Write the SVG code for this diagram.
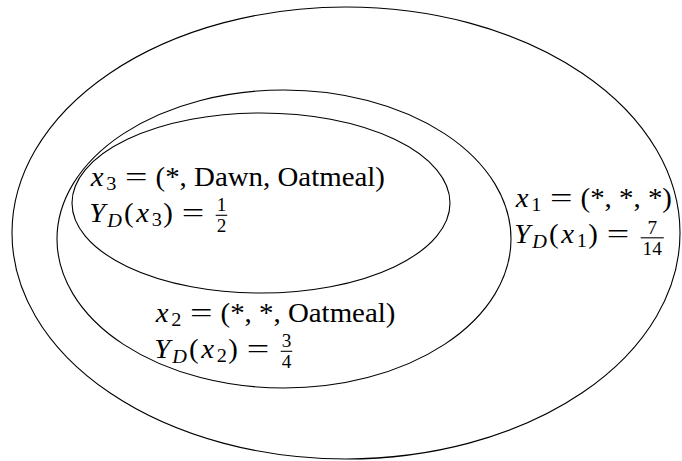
<svg xmlns="http://www.w3.org/2000/svg" width="682" height="461" viewBox="0 0 682 461" font-family="'Liberation Serif', 'DejaVu Serif', serif">
<style>
  .ell{fill:none;stroke:#000;stroke-width:1.1}
  text{font-family:'Liberation Serif','DejaVu Serif',serif;fill:#000}
  .mi{font-style:italic;font-size:27px;text-anchor:middle}
  .r{font-size:27px}
  .rc{font-size:27px;text-anchor:middle}
  .si{font-style:italic;font-size:19px;text-anchor:middle}
  .sr{font-size:19px;text-anchor:middle}
  .fr{font-size:18px;text-anchor:middle}
  .bar{stroke:#000;stroke-width:1.1}
</style>
<rect width="682" height="461" fill="#fff"/>
<g id="n1">
  <ellipse class="ell" cx="346" cy="233" rx="334" ry="226"/>
  <g transform="translate(514,0) scale(1.07,1)">
    <text class="mi" x="7.7" y="207">x</text>
    <text class="sr" x="20.8" y="211">1</text>
    <text class="rc" transform="translate(44.2,207) scale(1.38,1)">=</text>
    <text class="r" x="62.2" y="207">(*, *, *)</text>
    <text class="mi" x="7.85" y="243">Y</text>
    <text class="si" x="23.85" y="248">D</text>
    <text class="rc" x="37.25" y="243">(</text>
    <text class="mi" x="50.2" y="243">x</text>
    <text class="sr" x="63.3" y="247">1</text>
    <text class="rc" x="74" y="243">)</text>
    <text class="rc" transform="translate(97.2,243) scale(1.38,1)">=</text>
    <text class="fr" x="129.2" y="233.6">7</text>
    <line class="bar" x1="118.4" y1="237.8" x2="140" y2="237.8"/>
    <text class="fr" x="129.2" y="254.6">14</text>
  </g>
</g>
<g id="n2">
  <ellipse class="ell" cx="284" cy="239" rx="227" ry="149"/>
  <g transform="translate(154,0) scale(1.07,1)">
    <text class="mi" x="7.7" y="322">x</text>
    <text class="sr" x="20.8" y="326">2</text>
    <text class="rc" transform="translate(44.2,322) scale(1.38,1)">=</text>
    <text class="r" x="62.2" y="322">(*, *, Oatmeal)</text>
    <text class="mi" x="7.85" y="358">Y</text>
    <text class="si" x="23.85" y="363">D</text>
    <text class="rc" x="37.25" y="358">(</text>
    <text class="mi" x="50.2" y="358">x</text>
    <text class="sr" x="63.3" y="362">2</text>
    <text class="rc" x="74" y="358">)</text>
    <text class="rc" transform="translate(97.2,358) scale(1.38,1)">=</text>
    <text class="fr" x="123.8" y="347.2">3</text>
    <line class="bar" x1="118.4" y1="351.3" x2="129.2" y2="351.3"/>
    <text class="fr" x="123.8" y="368">4</text>
  </g>
</g>
<g id="n3">
  <ellipse class="ell" cx="261" cy="203" rx="189" ry="90"/>
  <g transform="translate(89,0) scale(1.07,1)">
    <text class="mi" x="7.7" y="186">x</text>
    <text class="sr" x="20.8" y="190">3</text>
    <text class="rc" transform="translate(44.2,186) scale(1.38,1)">=</text>
    <text class="r" x="62.2" y="186">(*, Dawn, Oatmeal)</text>
    <text class="mi" x="7.85" y="222">Y</text>
    <text class="si" x="23.85" y="227">D</text>
    <text class="rc" x="37.25" y="222">(</text>
    <text class="mi" x="50.2" y="222">x</text>
    <text class="sr" x="63.3" y="226">3</text>
    <text class="rc" x="74" y="222">)</text>
    <text class="rc" transform="translate(97.2,222) scale(1.38,1)">=</text>
    <text class="fr" x="123.8" y="211.2">1</text>
    <line class="bar" x1="118.4" y1="215.3" x2="129.2" y2="215.3"/>
    <text class="fr" x="123.8" y="232">2</text>
  </g>
</g>
<g id="connectors"/>
</svg>
